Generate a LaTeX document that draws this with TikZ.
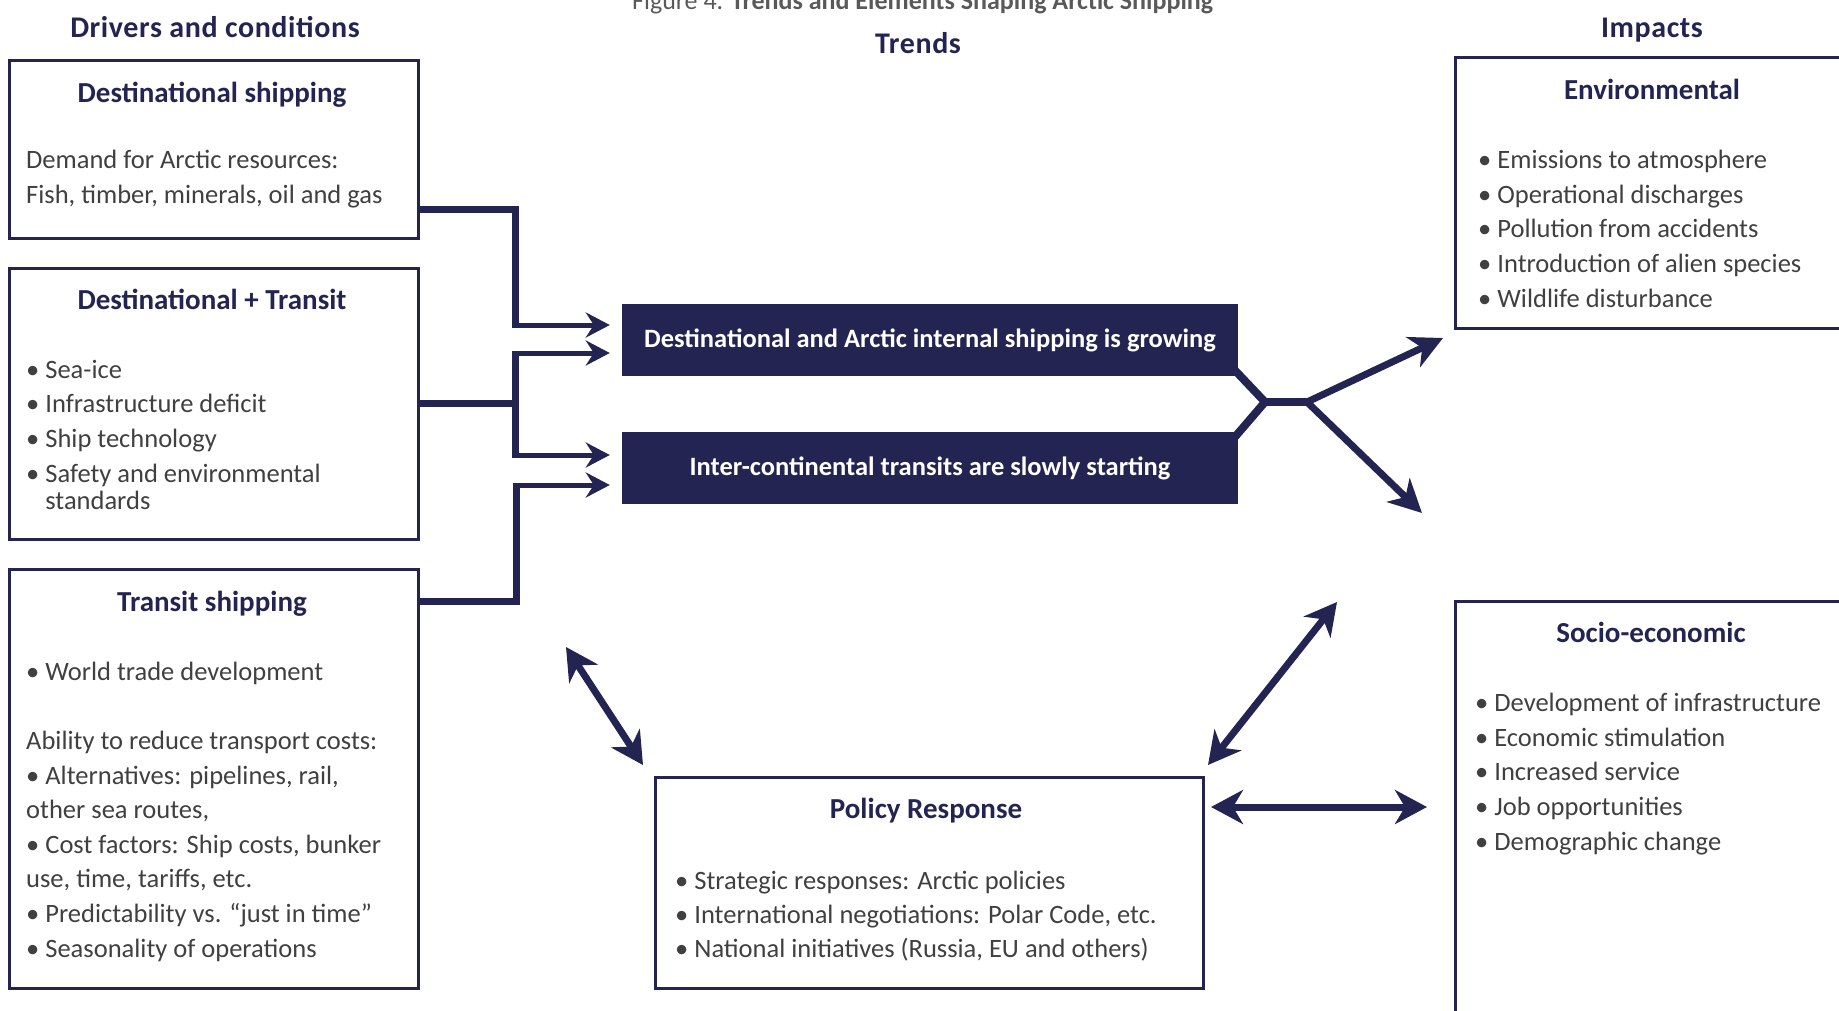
\documentclass[tikz,border=0pt]{standalone}
\usepackage{fontspec}
\setmainfont{Carlito}
\usetikzlibrary{arrows.meta,positioning,calc,backgrounds}

\definecolor{navy}{RGB}{36,36,82}
\definecolor{bodygrey}{RGB}{64,64,64}
\definecolor{capgrey}{RGB}{89,89,89}

\newcommand{\bodyfont}{\fontsize{26.5}{34.6}\selectfont}
\newcommand{\titlefont}{\fontsize{29}{34}\selectfont\bfseries}
\newcommand{\headfont}{\fontsize{30}{36}\selectfont\bfseries\addfontfeatures{LetterSpace=2}}
\newcommand{\trendfont}{\fontsize{26.5}{32}\selectfont\bfseries}

\begin{document}
\begin{tikzpicture}[
    x=1pt, y=-1pt,
    >=Stealth,
    colhead/.style={font=\headfont, text=navy, anchor=base},
    boxtitle/.style={font=\titlefont, text=navy, anchor=base},
    box/.style={draw=navy, line width=2.5pt, fill=white, anchor=north west, inner sep=0pt},
    trend/.style={fill=navy, text=white, font=\trendfont, inner sep=0pt,
                  minimum width=616pt, minimum height=72pt},
    body/.style={font=\bodyfont, text=bodygrey, align=left, anchor=base west, inner sep=0pt},
    feed/.style={navy, line width=7pt},
    branch/.style={navy, line width=5pt, shorten >=12pt,
                   -{Stealth[length=24pt, width=25pt, inset=8pt]}},
    merge/.style={navy, line width=8pt},
    spread/.style={navy, line width=7pt,
                   -{Stealth[length=33pt, width=33pt, inset=10pt]}},
    twoway/.style={navy, line width=7pt,
                   {Stealth[length=32pt, width=34pt, inset=10pt]}-{Stealth[length=32pt, width=34pt, inset=10pt]}}
]

\useasboundingbox (0,0) rectangle (1839,1010);
\clip (0,0) rectangle (1839,1010);

% ---- caption and column heads ----
\node[font=\fontsize{26}{30}\selectfont, text=capgrey, anchor=base west, inner sep=0pt] (caption)
  at (632,9.5) {Figure 4. \textbf{Trends and Elements Shaping Arctic Shipping}};
\node[colhead] (drivers) at (215,37) {Drivers and conditions};
\node[colhead] (trends) at (918,53) {Trends};
\node[colhead] (impacts) at (1652,37) {Impacts};

% ---- drivers (body nodes sit on the baseline of their last line) ----
\node[box, minimum width=409pt, minimum height=178pt] (dest) at (8,59) {};
\node[boxtitle] (destTitle) at (212,102) {Destinational shipping};
\node[body] (destTxt) at (26,203)
  {Demand for Arctic resources:\\Fish, timber, minerals, oil and gas};

\node[box, minimum width=409pt, minimum height=271pt] (both) at (8,267) {};
\node[boxtitle] (bothTitle) at (212,309) {Destinational + Transit};
\node[body] (bothTxt) at (26,509)
  {• Sea-ice\\• Infrastructure deficit\\• Ship technology\\• Safety and environmental\\[-7.6pt]\hphantom{• }standards};

\node[box, minimum width=409pt, minimum height=419pt] (transit) at (8,568) {};
\node[boxtitle] (transitTitle) at (212,611) {Transit shipping};
\node[body] (transitTxt) at (26,957)
  {• World trade development\\[34.6pt]Ability to reduce transport costs:\\• Alternatives: pipelines, rail,\\other sea routes,\\• Cost factors: Ship costs, bunker\\use, time, tariffs, etc.\\• Predictability vs. “just in time”\\• Seasonality of operations};

% ---- trends ----
\node[trend] (trendA) at (930,340) {Destinational and Arctic internal shipping is growing};
\node[trend] (trendB) at (930,468) {Inter-continental transits are slowly starting};

% ---- impacts ----
\node[box, minimum width=420pt, minimum height=271pt] (env) at (1454,56) {};
\node[boxtitle] (envTitle) at (1652,99) {Environmental};
\node[body] (envTxt) at (1478,307)
  {• Emissions to atmosphere\\• Operational discharges\\• Pollution from accidents\\• Introduction of alien species\\• Wildlife disturbance};

\node[box, minimum width=420pt, minimum height=440pt] (socio) at (1454,600) {};
\node[boxtitle] (socioTitle) at (1651,642) {Socio-economic};
\node[body] (socioTxt) at (1475,850)
  {• Development of infrastructure\\• Economic stimulation\\• Increased service\\• Job opportunities\\• Demographic change};

% ---- policy ----
\node[box, minimum width=548pt, minimum height=211pt] (policy) at (654,776) {};
\node[boxtitle] (policyTitle) at (926,818) {Policy Response};
\node[body, font=\fontsize{26.5}{34}\selectfont] (policyTxt) at (675,957)
  {• Strategic responses: Arctic policies\\• International negotiations: Polar Code, etc.\\• National initiatives (Russia, EU and others)};

% ---- connectors ----
\coordinate (kA) at (515,325);
\coordinate (kB) at (515,353);
\coordinate (kC) at (515,455);
\coordinate (kD) at (516,485);
\coordinate (rj) at (1265,402);
\coordinate (rk) at (1310,402);
\coordinate (envIn) at (1443,338);
\coordinate (socIn) at (1422,513);
\coordinate (pL1) at (566,647);
\coordinate (pL2) at (643,765);
\coordinate (pR1) at (1337,602);
\coordinate (pR2) at (1208,765);
\coordinate (hL) at (1211,807);
\coordinate (hR) at (1427,807);

\begin{scope}[on background layer]
\draw[feed] ([yshift=-60pt]dest.east) -| ([yshift=-2.5pt]kA);
\draw[feed] (both.east) -- (both.east -| kB);
\draw[feed] ([yshift=2.5pt]kB) -- ([yshift=-2.5pt]kC);
\draw[feed] ([yshift=177.5pt]transit.east) -| ([yshift=2.5pt]kD);
\draw[merge] ([xshift=-10pt,yshift=13pt]trendA.south east) -- (rj)
  -- ([xshift=-10pt,yshift=-13pt]trendB.north east);
\draw[merge] (rj) -- (rk);
\end{scope}

\foreach \k/\t in {kA/trendA, kB/trendA, kC/trendB, kD/trendB}
  \draw[branch] (\k) -- (\k -| \t.west);

\draw[spread] ([xshift=-3pt]rk) -- (envIn);
\draw[spread] ([xshift=-3pt]rk) -- (socIn);

\draw[twoway] (pL1) -- (pL2);
\draw[twoway] (pR1) -- (pR2);
\draw[twoway] (hL) -- (hR);

\end{tikzpicture}
\end{document}
